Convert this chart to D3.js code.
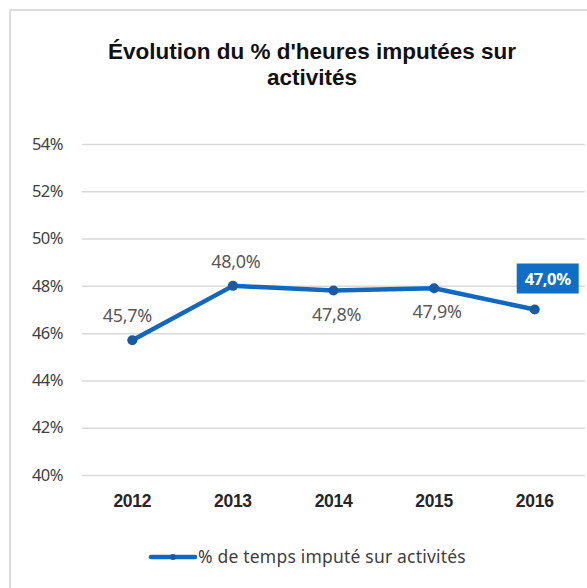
<!DOCTYPE html>
<html lang="fr">
<head>
<meta charset="UTF-8">
<title>Évolution</title>
<script src="https://d3js.org/d3.v7.min.js"></script>
<style>
  body { margin: 0; background: #fff; }
</style>
</head>
<body>
<script type="text/javascript">
    var years = ["2012", "2013", "2014", "2015", "2016"];
    var values = [45.7, 48.0, 47.8, 47.9, 47.0];
    var labelPos = ["above", "above", "below", "below", "boxed"];
    var yTicks = [40, 42, 44, 46, 48, 50, 52, 54];
    var titleLines = ["Évolution du % d'heures imputées sur", "activités"];
    var legendLabel = "% de temps imputé sur activités";

    var width = 587, height = 588;
    var blue = "#1268bf";
    var fmt = function (v) { return v.toFixed(1).replace(".", ",") + "%"; };

    var svg = d3.select("body").append("svg")
        .attr("width", width)
        .attr("height", height);

    // chart frame (runs off the right and bottom edges)
    svg.append("rect")
        .attr("x", 10).attr("y", 10)
        .attr("width", width + 10).attr("height", height + 10)
        .attr("fill", "white")
        .attr("stroke", "#dcdcdc")
        .attr("stroke-width", 2);

    svg.selectAll("text.title")
        .data(titleLines)
        .enter().append("text")
        .attr("class", "title")
        .attr("x", 312)
        .attr("y", function (d, i) { return 59 + i * 26; })
        .attr("text-anchor", "middle")
        .attr("font-family", "Liberation Sans, Arial, sans-serif")
        .attr("font-weight", "bold")
        .attr("font-size", "22.5px")
        .attr("fill", "#111")
        .text(function (d) { return d; });

    var x = d3.scaleBand().domain(years).range([82, 585]);
    var y = d3.scaleLinear().domain([40, 54]).range([475, 144]);

    var yAxis = d3.axisLeft(y).tickValues(yTicks)
        .tickSize(-(585 - 82))
        .tickFormat(function (d) { return d + "%"; });
    var gy = svg.append("g")
        .attr("transform", "translate(82,0)")
        .call(yAxis);
    gy.select(".domain").remove();
    gy.selectAll(".tick line").attr("stroke", "#d9d9d9").attr("stroke-width", 1.5);
    gy.selectAll(".tick text")
        .attr("x", -19)
        .attr("font-family", "Noto Sans, sans-serif")
        .attr("font-size", "16.5px")
        .attr("letter-spacing", "-0.5px")
        .attr("fill", "#404040");

    var xAxis = d3.axisBottom(x).tickSize(0);
    var gx = svg.append("g")
        .attr("transform", "translate(0,492)")
        .call(xAxis);
    gx.select(".domain").remove();
    gx.selectAll(".tick text")
        .attr("font-family", "Liberation Sans, Arial, sans-serif")
        .attr("font-weight", "bold")
        .attr("font-size", "17.5px")
        .attr("letter-spacing", "-0.3px")
        .attr("fill", "#262626");

    var cx = function (d, i) { return x(years[i]) + x.bandwidth() / 2; };

    var line = d3.line()
        .x(function (d, i) { return cx(d, i); })
        .y(function (d) { return y(d); });

    svg.append("path")
        .datum(values)
        .attr("d", line)
        .attr("fill", "none")
        .attr("stroke", blue)
        .attr("stroke-width", 4.5)
        .attr("stroke-linejoin", "round")
        .attr("stroke-linecap", "round");

    svg.selectAll("circle.pt")
        .data(values)
        .enter().append("circle")
        .attr("class", "pt")
        .attr("cx", cx)
        .attr("cy", function (d) { return y(d); })
        .attr("r", 5)
        .attr("fill", "#1a5aa0");

    // data labels
    values.forEach(function (v, i) {
        var px = cx(v, i), py = y(v);
        var pos = labelPos[i];
        if (pos === "boxed") {
            var bx = px + 13, by = py - 31;
            svg.append("rect")
                .attr("x", bx - 31).attr("y", by - 15)
                .attr("width", 62).attr("height", 30)
                .attr("fill", "#0f6fc6");
            svg.append("text")
                .attr("x", bx).attr("y", by + 6)
                .attr("text-anchor", "middle")
                .attr("font-family", "Noto Sans, sans-serif")
                .attr("font-weight", "bold")
                .attr("font-size", "16.5px")
                .attr("letter-spacing", "-0.4px")
                .attr("fill", "white")
                .text(fmt(v));
        } else {
            var ty = pos === "above" ? py - 18 : py + 30;
            var tx = i === 0 ? px - 5 : px + 3;
            svg.append("text")
                .attr("x", tx).attr("y", ty)
                .attr("text-anchor", "middle")
                .attr("font-family", "Noto Sans, sans-serif")
                .attr("font-size", "18px")
                .attr("letter-spacing", "-0.3px")
                .attr("fill", "#595959")
                .text(fmt(v));
        }
    });

    // legend
    var lg = svg.append("g").attr("transform", "translate(151,557)");
    lg.append("line")
        .attr("x1", 0).attr("x2", 44)
        .attr("y1", 0).attr("y2", 0)
        .attr("stroke", blue)
        .attr("stroke-width", 4.5)
        .attr("stroke-linecap", "round");
    lg.append("circle").attr("cx", 22).attr("cy", 0).attr("r", 3).attr("fill", "#1a5aa0");
    lg.append("text")
        .attr("x", 47).attr("y", 6)
        .attr("font-family", "Noto Sans, sans-serif")
        .attr("font-size", "17.5px")
        .attr("letter-spacing", "0.2px")
        .attr("fill", "#404040")
        .text(legendLabel);
</script>
</body>
</html>
